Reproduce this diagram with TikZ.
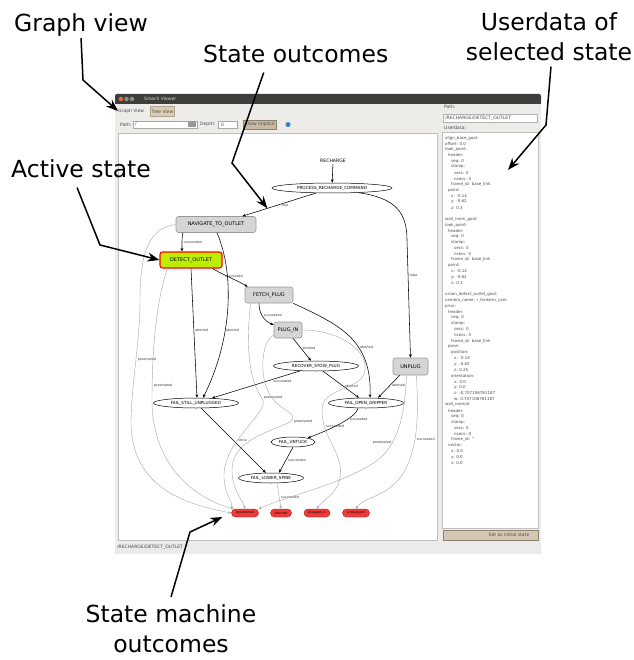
\documentclass[tikz,border=0pt]{standalone}
\usepackage{fontspec}
\setmainfont{DejaVu Sans}
\usetikzlibrary{arrows.meta,shapes.geometric}

\definecolor{titlebar}{HTML}{3F3E3A}
\definecolor{winbg}{HTML}{EDECE9}
\definecolor{tabtan}{HTML}{D9CDB4}
\definecolor{btntan}{HTML}{C8BA9E}
\definecolor{btnred}{HTML}{E4683C}
\definecolor{btngray}{HTML}{8D8B85}
\definecolor{helpblue}{HTML}{3A7FD0}
\definecolor{boxgray}{HTML}{D5D5D5}
\definecolor{boxedge}{HTML}{9A9A9A}
\definecolor{activegreen}{HTML}{BDEE00}
\definecolor{outred}{HTML}{F03A3A}
\definecolor{outedge}{HTML}{B01818}
\definecolor{uitext}{HTML}{4A4A55}

\begin{document}
\begin{tikzpicture}[x=1pt, y=-1pt,
    notearrow/.style={draw=black, line width=1.5pt, -{Stealth[length=12pt, width=9pt]}},
    bigtext/.style={font=\fontsize{23.5}{28}\selectfont, inner sep=1pt},
    sbox/.style={draw=boxedge, fill=boxgray, rounded corners=2.5pt, line width=0.6pt, minimum height=16pt, inner sep=1pt, font=\fontsize{5}{6}\selectfont},
    active/.style={fill=activegreen, draw=red, line width=1.1pt},
    ell/.style={ellipse, draw=black, fill=white, line width=0.5pt, minimum height=10pt, inner sep=0pt, font=\fontsize{4.2}{5}\selectfont},
    outcome/.style={draw=outedge, fill=outred, rounded corners=4pt, minimum height=8pt, inner sep=0.5pt, font=\fontsize{3.2}{4}\selectfont},
    trans/.style={draw=black, line width=0.55pt, -{Stealth[length=3.5pt, width=2.8pt]}},
    gtrans/.style={draw=black!35, line width=0.4pt, -{Stealth[length=3pt, width=2.4pt]}},
    lab/.style={font=\fontsize{3.3}{4}\selectfont, inner sep=0.8pt, text=black!80},
    ui/.style={font=\fontsize{4.5}{5}\selectfont, text=uitext, inner sep=0pt},
    ud/.style={font=\fontsize{4}{5}\selectfont, text=uitext, anchor=west, inner sep=0pt}]

\useasboundingbox (0,0) rectangle (633,660);

\fill[winbg] (115,94) rectangle (541,554);
\fill[titlebar, rounded corners=2pt] (115,94) rectangle (541,104);
\fill[titlebar] (115,99) rectangle (541,104);
\node[circle, fill=btnred, inner sep=0pt, minimum size=4.5pt] (close) at (121,99) {};
\node[circle, fill=btngray, inner sep=0pt, minimum size=4.5pt] (minim) at (126.5,99) {};
\node[circle, fill=btngray, inner sep=0pt, minimum size=4.5pt] (maxim) at (132,99) {};
\node[ui, anchor=west, text=black!15] (title) at (144,99) {Smach Viewer};

\node[ui, anchor=west] (gvt) at (118,111) {Graph View};
\node[ui, anchor=west, fill=tabtan, draw=tabtan!80!black, inner sep=1.5pt, minimum height=10pt] (tvt) at (150,111.5) {Tree View};

\node[ui, anchor=west] (pathl) at (120,124.5) {Path:};
\node[draw=black!35, fill=white, minimum width=64pt, minimum height=7pt, inner sep=0pt, anchor=west] (combo) at (133,124.5) {};
\node[ui, anchor=west] (slash) at (135,124.5) {/};
\node[fill=black!40, minimum width=8.5pt, minimum height=6pt, inner sep=0pt, anchor=east] (drop) at (196.5,124.5) {};
\node[ui, anchor=west] (depl) at (200,124.5) {Depth:};
\node[draw=black!35, fill=white, minimum width=19pt, minimum height=7pt, inner sep=0pt, anchor=west] (spin) at (218,124.5) {};
\node[ui, anchor=west] (zero) at (221,124.5) {0};
\node[ui, anchor=west, fill=btntan, draw=btntan!70!black, minimum height=8.5pt, inner sep=1.5pt] (impl) at (243,124.5) {Show implicit};
\node[circle, fill=helpblue, inner sep=0pt, minimum size=5pt] (help) at (288,124.5) {};

\filldraw[fill=white, draw=black!25] (118,133) rectangle (437,540);

\node[ui, anchor=west] (rpath) at (444,107) {Path:};
\node[draw=black!30, fill=white, minimum width=94pt, minimum height=8pt, inner sep=0pt, anchor=west] (pfield) at (443,118) {};
\node[ui, anchor=west] (ptext) at (445,118) {/RECHARGE/DETECT\_OUTLET};
\node[ui, anchor=west] (udl) at (444,128) {Userdata:};
\filldraw[fill=white, draw=black!25] (442,132.5) rectangle (538.5,528);
\node[fill=btntan!80, draw=btntan!70!black, minimum width=95pt, minimum height=10pt, inner sep=0pt] (initbtn) at (490.5,535) {};
\node[ui] (inittext) at (509,535) {Set as initial state};
\fill[black!8] (115,542) rectangle (541,553);
\node[ui, anchor=west] (status) at (117,547.5) {/RECHARGE/DETECT\_OUTLET};

\foreach \d/\t [count=\n from 0] in {0/align\_base\_goal:, 0/offset: 0.0, 0/look\_point:, 1/header:, 2/seq: 0, 2/stamp:, 3/secs: 0, 3/nsecs: 0, 2/frame\_id: base\_link, 1/point:, 2/x: -0.14, 2/y: -0.62, 2/z: 0.3, 0/{},
  0/wall\_norm\_goal:, 0/look\_point:, 1/header:, 2/seq: 0, 2/stamp:, 3/secs: 0, 3/nsecs: 0, 2/frame\_id: base\_link, 1/point:, 2/x: -0.14, 2/y: -0.62, 2/z: 0.3, 0/{},
  0/vision\_detect\_outlet\_goal:, 0/camera\_name: r\_forearm\_cam, 0/prior:, 1/header:, 2/seq: 0, 2/stamp:, 3/secs: 0, 3/nsecs: 0, 2/frame\_id: base\_link, 1/pose:, 2/position:, 3/x: -0.14, 3/y: -0.62, 3/z: 0.25, 2/orientation:, 3/x: 0.0, 3/y: 0.0, 3/z: -0.707106781187, 3/w: 0.707106781187,
  0/wall\_normal:, 1/header:, 2/seq: 0, 2/stamp:, 3/secs: 0, 3/nsecs: 0, 2/frame\_id: '', 1/vector:, 2/x: 0.0, 2/y: 0.0, 2/z: 0.0}
  \node[ud] (line\n) at (445+3*\d, 138+5.8*\n) {\t};

\node[font=\fontsize{4.6}{5}\selectfont, inner sep=1pt] (rech) at (333,161) {RECHARGE};
\node[ell, minimum width=120pt] (prc) at (332,188) {PROCESS\_RECHARGE\_COMMAND};
\node[sbox, minimum width=80pt] (nav) at (216,224.5) {NAVIGATE\_TO\_OUTLET};
\node[sbox, active, minimum width=62pt] (det) at (191,260) {DETECT\_OUTLET};
\node[sbox, minimum width=48pt] (fet) at (269,295) {FETCH\_PLUG};
\node[sbox, minimum width=28pt] (plg) at (288,330) {PLUG\_IN};
\node[ell, minimum width=85pt] (rsp) at (316,366) {RECOVER\_STOW\_PLUG};
\node[sbox, minimum width=35pt, minimum height=17pt] (unp) at (410.5,366.5) {UNPLUG};
\node[ell, minimum width=85pt] (fsu) at (196,403) {FAIL\_STILL\_UNPLUGGED};
\node[ell, minimum width=75pt] (fog) at (366,403) {FAIL\_OPEN\_GRIPPER};
\node[ell, minimum width=44pt] (fut) at (293,442) {FAIL\_UNTUCK};
\node[ell, minimum width=65pt] (fls) at (271,478) {FAIL\_LOWER\_SPINE};
\node[outcome, minimum width=27pt] (opre) at (245,513) {preempted};
\node[outcome, minimum width=21pt] (oabo) at (281,513) {aborted};
\node[outcome, minimum width=26pt] (opi) at (317,513) {plugged\_in};
\node[outcome, minimum width=27pt] (ounp) at (356,513) {unplugged};

\draw[trans] (rech) -- (prc);
\draw[trans] (prc) -- coordinate[pos=0.66] (tip2) (nav) node[lab, pos=0.42, below=0.5pt] {true};
\draw[trans] (prc.-10) .. controls (395,198) and (407,212) .. (407,240) -- (unp.north) node[lab, pos=0.3, right=0.5pt] {false};
\draw[trans] ([xshift=7pt]nav.south west) .. controls +(-1,9) and +(0,-9) .. ([xshift=-9pt]det.north) node[lab, pos=0.5, right=1pt] {succeeded};
\draw[trans] ([xshift=-10pt]det.south east) .. controls +(10,6) and +(-10,-6) .. ([xshift=3pt]fet.north west) node[lab, pos=0.6, above=0.5pt] {succeeded};
\draw[trans] (det.south) -- ([xshift=1pt]fsu.north) node[lab, pos=0.48, right=0.3pt] {aborted};
\draw[trans] ([xshift=1pt]nav.south) .. controls (235,275) and (232,340) .. ([xshift=7pt]fsu.north) node[lab, pos=0.62, right=0pt] {aborted};
\draw[trans] ([xshift=-10pt]fet.south) .. controls +(0,12) and +(-8,-3) .. (plg.160) node[lab, pos=0.4, right=1pt] {succeeded};
\draw[trans] (fet.south east) .. controls (340,325) and (372,340) .. ([xshift=4pt]fog.north) node[lab, pos=0.62, right=0.5pt] {aborted};
\draw[trans] ([xshift=5pt]plg.south) -- ([xshift=-5pt]rsp.north) node[lab, pos=0.45, right=0.5pt] {aborted};
\draw[trans] (rsp) -- (fsu) node[lab, pos=0.2, below=3pt] {succeeded};
\draw[trans] (rsp) -- (fog) node[lab, pos=0.55, right=1pt] {aborted};
\draw[trans] ([xshift=7pt]unp.south west) -- ([xshift=12pt]fog.north) node[lab, pos=0.45, right=1pt] {aborted};
\draw[trans] (fsu) -- (fls) node[lab, pos=0.5, right=4pt] {done};
\draw[trans] ([xshift=-8pt]fog.south) .. controls +(-3,12) and +(10,-4) .. (fut.15) node[lab, pos=0.3, right=1pt] {succeeded};
\draw[trans] (fut.south) -- ([xshift=8pt]fls.north) node[lab, pos=0.5, right=1pt] {succeeded};

\draw[gtrans] ([xshift=6pt]fls.south) -- (oabo.north) node[lab, pos=0.55, right=1pt] {succeeded};
\draw[gtrans] (nav.west) .. controls (150,228) and (140,250) .. (140,300) .. controls (140,340) and (132,380) .. (131,420) node[lab, pos=0.5, right=1pt] {preempted} .. controls (130,490) and (190,505) .. (opre.west);
\draw[gtrans] ([xshift=8pt]det.south west) .. controls (160,290) and (152,330) .. (152,400) node[lab, pos=0.93, right=1pt] {preempted} .. controls (152,470) and (200,500) .. (opre.160);
\draw[gtrans] ([xshift=6pt]fet.south west) .. controls (246,340) and (248,380) .. (262,398) node[lab, pos=1, right=1pt] {preempted} .. controls (272,412) and (222,440) .. (224,478) .. controls (225,495) and (233,503) .. (opre.north west);
\draw[gtrans] (plg.200) .. controls (262,340) and (258,375) .. (270,395) .. controls (280,412) and (300,412) .. (290,422) node[lab, pos=1, right=3pt] {preempted} .. controls (270,432) and (232,440) .. (232,470) .. controls (232,490) and (243,500) .. (opre.north);
\draw[gtrans] (plg.east) .. controls (340,330) and (372,352) .. (364,374) .. controls (358,390) and (322,388) .. (322,410) .. controls (322,440) and (344,452) .. (340,478) node[lab, pos=0.2, right=1pt] {succeeded} .. controls (337,495) and (322,500) .. (opi.north);
\draw[gtrans] ([xshift=-4pt]unp.south) .. controls (405,410) and (400,445) .. (375,462) node[lab, pos=0.7, left=0.5pt] {preempted} .. controls (340,485) and (290,495) .. (opre.north east);
\draw[gtrans] ([xshift=6pt]unp.south) .. controls (418,410) and (420,450) .. (400,478) node[lab, pos=0.6, right=1pt] {succeeded} .. controls (385,497) and (362,498) .. (ounp.north);

\node[bigtext, anchor=base west] (gv) at (13,32) {Graph view};
\node[bigtext, anchor=base west] (so) at (202,63) {State outcomes};
\node[bigtext, anchor=base] (ud1) at (549,31) {Userdata of};
\node[bigtext, anchor=base] (ud2) at (549,61) {selected state};
\node[bigtext, anchor=base west] (as) at (10,178) {Active state};
\node[bigtext, anchor=base] (sm1) at (171,622) {State machine};
\node[bigtext, anchor=base] (sm2) at (171,652) {outcomes};
\coordinate (udtip) at (508,170);

\draw[notearrow] (gv.south) -- (83,80) -- (gvt.west);
\draw[notearrow] ([xshift=-32pt, yshift=-8pt]so.south) -- (232,163) -- (tip2);
\draw[notearrow] ([xshift=-4pt, yshift=-8pt]as.south) -- (100,245) -- (det.west);
\draw[notearrow] ([xshift=2pt, yshift=-4pt]ud2.south) -- (546,125) -- (udtip);
\draw[notearrow] ([yshift=6pt]sm1.north) -- (190,532) -- ([xshift=-9pt, yshift=-4pt]opre.west);
\end{tikzpicture}
\end{document}
